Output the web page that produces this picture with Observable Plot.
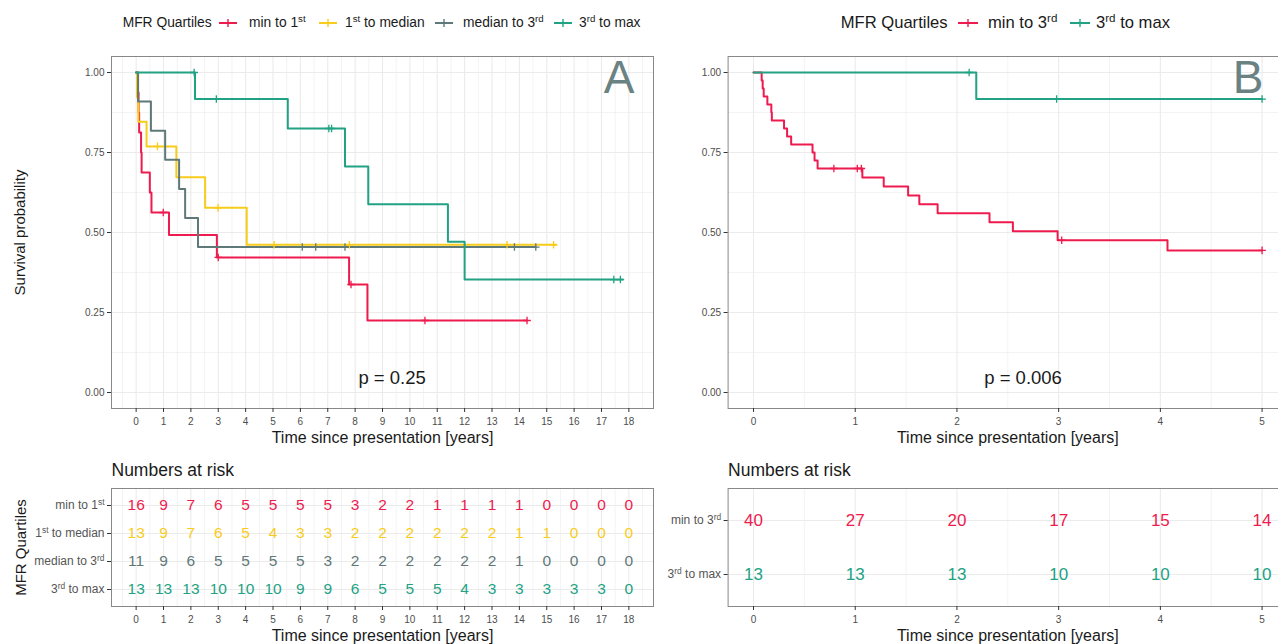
<!DOCTYPE html>
<html><head><meta charset="utf-8">
<script src="https://cdn.jsdelivr.net/npm/d3@7"></script>
<script src="https://cdn.jsdelivr.net/npm/@observablehq/plot@0.6"></script>
<style>
body{margin:0;background:#fff;font-family:"Liberation Sans",Arial,Helvetica,sans-serif;}
#root{position:relative;width:1278px;height:644px;overflow:hidden;background:#fff;}
.chart{position:absolute;}
.leg{position:absolute;white-space:nowrap;color:#1a1a1a;line-height:1;transform:translateY(-50%);}
.leg sup{font-size:0.7em;vertical-align:0.5em;line-height:0;}
.glyph{position:absolute;transform:translateY(-50%);}
</style></head><body><div id="root"></div>
<script>
// ---------------- DATA ----------------
const groupsA = ["min to 1st", "1st to median", "median to 3rd", "3rd to max"];
const groupsB = ["min to 3rd", "3rd to max"];
const colorsA = ["#EE1B4E", "#F8CC1B", "#5F7979", "#21A284"];
const colorsB = ["#EE1B4E", "#21A284"];

// Panel A Kaplan-Meier steps (event times, survival after event), censor times, end of follow-up
const minTo1stTimes  = [0.07, 0.09, 0.11, 0.18, 0.20, 0.50, 0.56, 1.20, 2.95, 7.78, 8.45];
const minTo1stSurv   = [0.9375, 0.875, 0.8125, 0.75, 0.6875, 0.625, 0.5625, 0.492, 0.422, 0.3375, 0.225];
const minTo1stCensor = [0.99, 3.0, 7.85, 10.55, 14.28];
const minTo1stEnd    = 14.28;

const firstToMedTimes  = [0.03, 0.08, 0.38, 1.47, 2.52, 4.04];
const firstToMedSurv   = [0.923, 0.846, 0.769, 0.673, 0.577, 0.4615];
const firstToMedCensor = [0.78, 2.99, 5.04, 7.79, 13.55, 15.25];
const firstToMedEnd    = 15.35;

const medTo3rdTimes  = [0.07, 0.54, 1.06, 1.57, 1.79, 2.26];
const medTo3rdSurv   = [0.909, 0.818, 0.727, 0.636, 0.545, 0.4545];
const medTo3rdCensor = [6.07, 6.56, 7.63, 13.82, 14.6];
const medTo3rdEnd    = 14.6;

const thirdToMaxTimesA  = [2.15, 5.54, 7.63, 8.48, 11.39, 12.0];
const thirdToMaxSurvA   = [0.917, 0.825, 0.706, 0.588, 0.471, 0.353];
const thirdToMaxCensorA = [2.12, 2.93, 7.04, 7.14, 17.45, 17.69];
const thirdToMaxEndA    = 17.78;

// Panel B
const minTo3rdTimes  = [0.08, 0.09, 0.10, 0.136, 0.175, 0.18, 0.30, 0.33, 0.37, 0.58, 0.60, 0.63,
                        1.07, 1.28, 1.52, 1.63, 1.81, 2.32, 2.55, 2.99, 4.07];
const minTo3rdSurv   = [0.975, 0.95, 0.925, 0.90, 0.875, 0.85, 0.825, 0.80, 0.775, 0.75, 0.725, 0.70,
                        0.672, 0.644, 0.616, 0.588, 0.56, 0.532, 0.504, 0.476, 0.444];
const minTo3rdCensor = [0.79, 1.02, 1.06, 3.03, 5.0];
const minTo3rdEnd    = 5.0;

const thirdToMaxTimesB  = [2.19];
const thirdToMaxSurvB   = [0.917];
const thirdToMaxCensorB = [2.12, 2.98, 5.0];
const thirdToMaxEndB    = 5.0;

// Axis ticks
const survTicks  = [0, 0.25, 0.5, 0.75, 1];
const survMinor  = [0.125, 0.375, 0.625, 0.875];
const yearsA     = [0,1,2,3,4,5,6,7,8,9,10,11,12,13,14,15,16,17,18];
const yearsAMinor= [-0.5,0.5,1.5,2.5,3.5,4.5,5.5,6.5,7.5,8.5,9.5,10.5,11.5,12.5,13.5,14.5,15.5,16.5,17.5,18.5];
const yearsB     = [0,1,2,3,4,5];
const yearsBMinor= [0.5,1.5,2.5,3.5,4.5];

// Numbers at risk
const riskMinTo1st   = [16,9,7,6,5,5,5,5,3,2,2,1,1,1,1,0,0,0,0];
const riskFirstToMed = [13,9,7,6,5,4,3,3,2,2,2,2,2,2,1,1,0,0,0];
const riskMedTo3rd   = [11,9,6,5,5,5,5,3,2,2,2,2,2,2,1,0,0,0,0];
const riskThirdToMaxA= [13,13,13,10,10,10,9,9,6,5,5,5,4,3,3,3,3,3,0];
const riskMinTo3rd   = [40,27,20,17,15,14];
const riskThirdToMaxB= [13,13,13,10,10,10];

// Annotations
const pValueA = {t: 9.35, s: 0.045, label: "p = 0.25"};
const pValueB = {t: 2.65, s: 0.045, label: "p = 0.006"};
const xTitle = "Time since presentation [years]";
const yTitleKM = "Survival probability";
const yTitleRisk = "MFR Quartiles";
const riskTitle = "Numbers at risk";
const legendTitle = "MFR Quartiles";

// ---------------- HELPERS ----------------
const FONT = "'Liberation Sans', Arial, Helvetica, sans-serif";
const GRID = "#ebebeb";
const root = document.getElementById("root");
const plusSymbol = {draw(ctx, size) {
  const r = Math.sqrt(size / Math.PI);
  ctx.moveTo(-r, 0); ctx.lineTo(r, 0); ctx.moveTo(0, -r); ctx.lineTo(0, r);
}};

function supify(svg, fs) {
  const ns = "http://www.w3.org/2000/svg";
  svg.querySelectorAll("text").forEach(t => {
    if (t.children.length) return;
    const m = t.textContent.match(/^(.*?\d)(st|nd|rd|th)(.*)$/);
    if (!m) return;
    t.textContent = "";
    const a = document.createElementNS(ns, "tspan"); a.textContent = m[1]; t.appendChild(a);
    const b = document.createElementNS(ns, "tspan"); b.textContent = m[2];
    b.setAttribute("dy", (-0.4 * fs).toFixed(2)); b.setAttribute("font-size", (0.7 * fs).toFixed(2)); t.appendChild(b);
    if (m[3]) { const c = document.createElementNS(ns, "tspan"); c.textContent = m[3];
      c.setAttribute("dy", (0.4 * fs).toFixed(2)); t.appendChild(c); }
  });
}

function place(el, left, top) {
  el.classList.add("chart"); el.style.left = left + "px"; el.style.top = top + "px"; root.appendChild(el);
}

function kmChart(o) {
  const lines = [], cens = [];
  o.curves.forEach(c => {
    lines.push({t: 0, s: 1, g: c.g});
    c.times.forEach((t, i) => lines.push({t, s: c.surv[i], g: c.g}));
    lines.push({t: c.end, s: c.surv[c.surv.length - 1], g: c.g});
    c.censor.forEach(t => {
      let s = 1; c.times.forEach((et, i) => { if (et <= t) s = c.surv[i]; });
      cens.push({t, s, g: c.g});
    });
  });
  const marks = [
    Plot.ruleX(o.xMinor, {stroke: GRID, strokeWidth: 0.6}),
    Plot.ruleY(survMinor, {stroke: GRID, strokeWidth: 0.6}),
    Plot.ruleX(o.xTicks, {stroke: GRID, strokeWidth: 1.1}),
    Plot.ruleY(survTicks, {stroke: GRID, strokeWidth: 1.1}),
    Plot.frame({stroke: "#888", strokeWidth: 1}),
    Plot.line(lines, {x: "t", y: "s", z: "g", stroke: "g", curve: "step-after", strokeWidth: 2}),
    Plot.dot(cens, {x: "t", y: "s", stroke: "g", fill: "none", symbol: plusSymbol, r: 3.8, strokeWidth: 1.3}),
    Plot.axisX({ticks: o.xTicks, tickSize: 4, tickPadding: 5, fontSize: 10, stroke: "#333", fill: "#4d4d4d", label: null, tickFormat: d => String(d)}),
    Plot.axisY({ticks: survTicks, tickSize: 4, tickPadding: 3, fontSize: 10, stroke: "#333", fill: "#4d4d4d", label: null, tickFormat: d => d.toFixed(2)}),
    Plot.text([o.pValue], {x: "t", y: "s", text: "label", fontSize: 18.5, fill: "#1a1a1a"}),
    Plot.text([o.letter], {frameAnchor: "top-right", dx: o.letterDx, dy: 4, fontSize: 46, fill: "#6A8282", textAnchor: "end"}),
    Plot.text([xTitle], {frameAnchor: "bottom", dy: 34, fontSize: 16, fill: "#1a1a1a"})
  ];
  if (o.yTitle) marks.push(Plot.text([o.yTitle], {frameAnchor: "left", dx: -91, rotate: -90, textAnchor: "middle", fontSize: 15, fill: "#1a1a1a"}));
  return Plot.plot({
    width: o.width, height: 410, marginLeft: o.ml, marginRight: o.mr, marginTop: 16, marginBottom: 42,
    style: {fontFamily: FONT, background: "transparent", overflow: "visible"},
    x: {domain: o.xDomain},
    y: {domain: [-0.05, 1.05]},
    color: {domain: o.groups, range: o.colors},
    marks
  });
}

function riskChart(o) {
  const rows = [];
  o.groups.forEach((g, gi) => o.risk[gi].forEach((n, i) => rows.push({t: o.xTicks[i], g, n})));
  const marks = [
    Plot.ruleX(o.xMinor, {stroke: GRID, strokeWidth: 0.6}),
    Plot.ruleX(o.xTicks, {stroke: GRID, strokeWidth: 1.1}),
    Plot.ruleY(o.groups, {stroke: GRID, strokeWidth: 1.1}),
    Plot.frame({stroke: "#888", strokeWidth: 1}),
    Plot.text(rows, {x: "t", y: "g", text: d => String(d.n), fill: "g", fontSize: o.numSize}),
    Plot.axisX({ticks: o.xTicks, tickSize: 4, tickPadding: 5, fontSize: 10, stroke: "#333", fill: "#4d4d4d", label: null, tickFormat: d => String(d)}),
    Plot.axisY({tickSize: 4, tickPadding: 3, fontSize: 12, stroke: "#333", fill: "#555", label: null}),
    Plot.text([riskTitle], {frameAnchor: "top-left", dy: -25, fontSize: 17.5, fill: "#1a1a1a", textAnchor: "start"}),
    Plot.text([xTitle], {frameAnchor: "bottom", dy: 34, fontSize: 16, fill: "#1a1a1a"})
  ];
  if (o.yTitle) marks.push(Plot.text([o.yTitle], {frameAnchor: "left", dx: -90, rotate: -90, textAnchor: "middle", fontSize: 15, fill: "#1a1a1a"}));
  const svg = Plot.plot({
    width: o.width, height: 189, marginLeft: o.ml, marginRight: o.mr, marginTop: 33, marginBottom: 38,
    style: {fontFamily: FONT, background: "transparent", overflow: "visible"},
    x: {domain: o.xDomain},
    y: {type: "point", domain: o.groups, padding: o.pad},
    color: {domain: o.groups, range: o.colors},
    marks
  });
  supify(svg, 12);
  return svg;
}

function legend(items, title, fs, y, titleX) {
  const t = document.createElement("div");
  t.className = "leg"; t.style.fontSize = fs + "px"; t.style.left = titleX + "px"; t.style.top = y + "px";
  t.textContent = title; root.appendChild(t);
  items.forEach(it => {
    const ns = "http://www.w3.org/2000/svg";
    const s = document.createElementNS(ns, "svg");
    s.setAttribute("width", it.gw); s.setAttribute("height", 12); s.setAttribute("class", "glyph");
    s.style.left = it.gx + "px"; s.style.top = y + "px";
    s.innerHTML = `<line x1="0" x2="${it.gw}" y1="6" y2="6" stroke="${it.color}" stroke-width="2"/>` +
                  `<line x1="${it.gw/2}" x2="${it.gw/2}" y1="2" y2="10" stroke="${it.color}" stroke-width="1.4"/>`;
    root.appendChild(s);
    const d = document.createElement("div");
    d.className = "leg"; d.style.fontSize = fs + "px"; d.style.left = it.tx + "px"; d.style.top = y + "px";
    d.innerHTML = it.label.replace(/(\d)(st|nd|rd|th)/, "$1<sup>$2</sup>");
    root.appendChild(d);
  });
}

// ---------------- CHARTS ----------------
place(kmChart({
  width: 660, ml: 111, mr: 7, xDomain: [-0.9, 18.9], xTicks: yearsA, xMinor: yearsAMinor,
  groups: groupsA, colors: colorsA, pValue: pValueA, letter: "A", letterDx: -19, yTitle: yTitleKM,
  curves: [
    {g: groupsA[0], times: minTo1stTimes, surv: minTo1stSurv, censor: minTo1stCensor, end: minTo1stEnd},
    {g: groupsA[1], times: firstToMedTimes, surv: firstToMedSurv, censor: firstToMedCensor, end: firstToMedEnd},
    {g: groupsA[2], times: medTo3rdTimes, surv: medTo3rdSurv, censor: medTo3rdCensor, end: medTo3rdEnd},
    {g: groupsA[3], times: thirdToMaxTimesA, surv: thirdToMaxSurvA, censor: thirdToMaxCensorA, end: thirdToMaxEndA}
  ]
}), 0, 40);

place(kmChart({
  width: 660, ml: 87.6, mr: 13, xDomain: [-0.25, 5.25], xTicks: yearsB, xMinor: yearsBMinor,
  groups: groupsB, colors: colorsB, pValue: pValueB, letter: "B", letterDx: -24, yTitle: null,
  curves: [
    {g: groupsB[0], times: minTo3rdTimes, surv: minTo3rdSurv, censor: minTo3rdCensor, end: minTo3rdEnd},
    {g: groupsB[1], times: thirdToMaxTimesB, surv: thirdToMaxSurvB, censor: thirdToMaxCensorB, end: thirdToMaxEndB}
  ]
}), 640, 40);

place(riskChart({
  width: 660, ml: 111, mr: 7, xDomain: [-0.9, 18.9], xTicks: yearsA, xMinor: yearsAMinor,
  groups: groupsA, colors: colorsA, pad: 0.56, numSize: 15.5, yTitle: yTitleRisk,
  risk: [riskMinTo1st, riskFirstToMed, riskMedTo3rd, riskThirdToMaxA]
}), 0, 455);

place(riskChart({
  width: 660, ml: 87.6, mr: 13, xDomain: [-0.25, 5.25], xTicks: yearsB, xMinor: yearsBMinor,
  groups: groupsB, colors: colorsB, pad: 0.59, numSize: 17, yTitle: null,
  risk: [riskMinTo3rd, riskThirdToMaxB]
}), 640, 455);

legend([
  {label: groupsA[0], color: colorsA[0], gx: 219, gw: 18, tx: 249},
  {label: groupsA[1], color: colorsA[1], gx: 319, gw: 18, tx: 345},
  {label: groupsA[2], color: colorsA[2], gx: 435, gw: 18, tx: 463},
  {label: groupsA[3], color: colorsA[3], gx: 554, gw: 18, tx: 579}
], legendTitle, 13.8, 23, 122.7);

legend([
  {label: groupsB[0], color: colorsB[0], gx: 958, gw: 20, tx: 988},
  {label: groupsB[1], color: colorsB[1], gx: 1070, gw: 20, tx: 1096}
], legendTitle, 16.6, 22.7, 840.7);
</script></body></html>
